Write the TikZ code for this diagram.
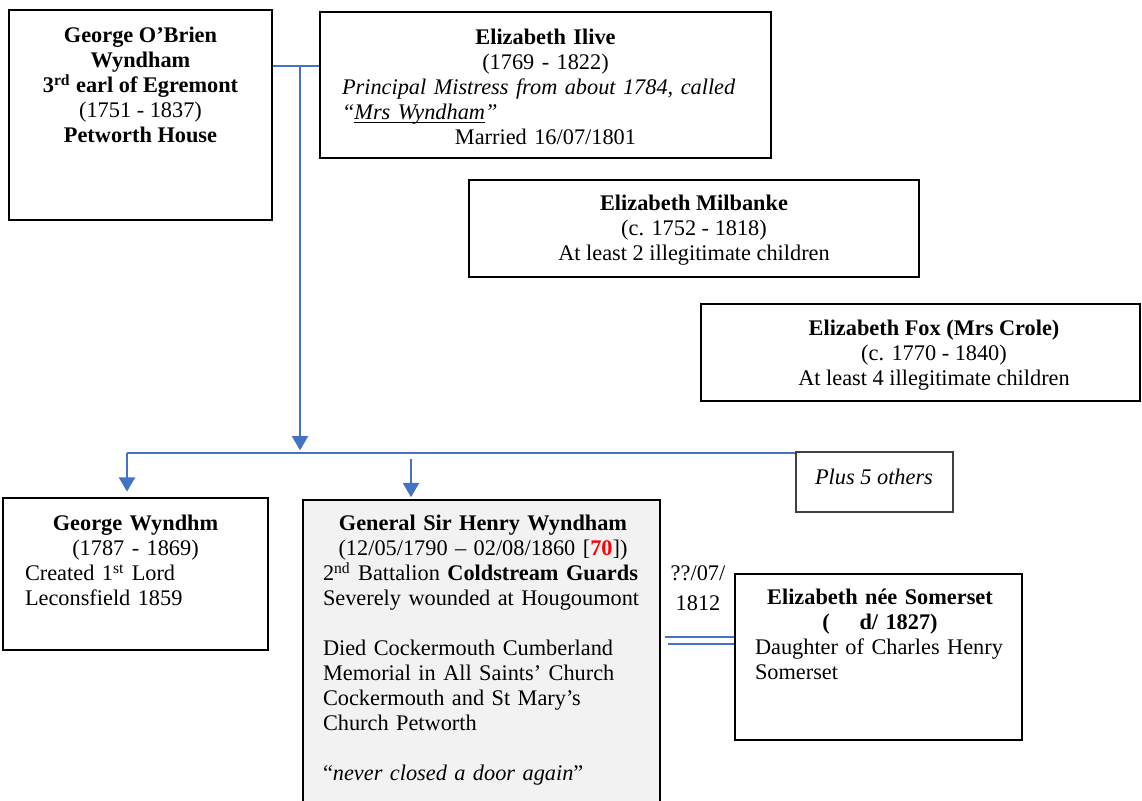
\documentclass[tikz,border=0pt]{standalone}
\usepackage{fontspec}
\setmainfont{Liberation Serif}
\usetikzlibrary{arrows.meta}
\definecolor{linkblue}{RGB}{68,114,196}
\definecolor{boxgrey}{RGB}{242,242,242}
\definecolor{agered}{RGB}{255,0,0}
\newcommand{\ctrline}[1]{\makebox[\linewidth][c]{#1}}
\newcommand{\ulword}[1]{{\setbox0\hbox{#1}\rlap{\rule[-1.7pt]{\wd0}{0.6pt}}\box0}}
\tikzset{
  person/.style={rectangle, draw, line width=1.1pt, inner sep=0pt},
  info/.style={anchor=north, inner sep=0pt, font=\fontsize{12.5}{14}\selectfont},
  link/.style={draw=linkblue, line width=1.2pt},
  down/.style={link, -{Triangle[width=9pt,length=8pt]}},
}
\begin{document}
\begin{tikzpicture}[x=0.56pt, y=-0.56pt]
\useasboundingbox (0,0) rectangle (1142,801);

% the earl and the mistresses
\node[person, minimum width=263*0.56pt, minimum height=210*0.56pt] (george) at (140.5,115) {};
\node[person, minimum width=451*0.56pt, minimum height=146*0.56pt] (ilive) at (545.5,85) {};
\node[person, minimum width=450*0.56pt, minimum height=97*0.56pt] (milbanke) at (694,228.5) {};
\node[person, minimum width=439*0.56pt, minimum height=97*0.56pt] (fox) at (920.5,352.5) {};

\node[info, align=center] (georgeTxt) at (140.5,27) {\textbf{George O’Brien}\\\textbf{Wyndham}\\\textbf{3\textsuperscript{rd} earl of Egremont}\\(1751 - 1837)\\\textbf{Petworth House}};
\node[info, text width=407*0.56pt, align=left] (iliveTxt) at (545.5,29) {\ctrline{\textbf{Elizabeth Ilive}}\\\ctrline{(1769 - 1822)}\\\textit{Principal Mistress from about 1784, called}\\\textit{“\ulword{Mrs Wyndham}”}\\\ctrline{Married 16/07/1801}};
\node[info, align=center] (milbankeTxt) at (694,195) {\textbf{Elizabeth Milbanke}\\(c. 1752 - 1818)\\At least 2 illegitimate children};
\node[info, align=center] (foxTxt) at (934,320) {\textbf{Elizabeth Fox (Mrs Crole)}\\(c. 1770 - 1840)\\At least 4 illegitimate children};

% the children
\node[person, line width=0.9pt, draw=black!75, minimum width=157*0.56pt, minimum height=60*0.56pt] (plus) at (874.5,482) {};
\node[person, minimum width=265*0.56pt, minimum height=152*0.56pt] (georgeW) at (135.5,574) {};
\node[person, fill=boxgrey, minimum width=357*0.56pt, minimum height=320*0.56pt] (henry) at (481.5,660) {};
\node[person, minimum width=287*0.56pt, minimum height=166*0.56pt] (somerset) at (878.5,657) {};

\node[info] (plusTxt) at (874,469) {\textit{Plus 5 others}};
\node[info, text width=221*0.56pt, align=left] (georgeWTxt) at (135.5,515) {\ctrline{\textbf{George Wyndhm}}\\\ctrline{(1787 - 1869)}\\Created 1\textsuperscript{st} Lord\\Leconsfield 1859};
\node[info, text width=320*0.56pt, align=left] (henryTxt) at (483,515) {\ctrline{\textbf{General Sir Henry Wyndham}}\\\ctrline{(12/05/1790 – 02/08/1860 [\textbf{\textcolor{agered}{70}}])}\\2\textsuperscript{nd} Battalion \textbf{Coldstream Guards}\\Severely wounded at Hougoumont\\[14pt]Died Cockermouth Cumberland\\Memorial in All Saints’ Church\\Cockermouth and St Mary’s\\Church Petworth\\[14pt]“\textit{never closed a door again}”};
\node[info, text width=250*0.56pt, align=left] (somersetTxt) at (880,589) {\ctrline{\textbf{Elizabeth née Somerset}}\\\ctrline{\textbf{(\hspace{1em} d/ 1827)}}\\Daughter of Charles Henry\\Somerset};
\node[info, align=center, font=\fontsize{12.5}{17}\selectfont] (wedDate) at (698,565) {??/07/\\1812};

% connectors
\coordinate (wedJ) at (300,66);
\coordinate (kidsJ) at (300,453);
\coordinate (barL) at (127,453);
\coordinate (henryA) at (411,459);
\coordinate (wedK) at (665,637);
\coordinate (wedL) at (668,644);
\draw[link] (wedJ -| george.east) -- (wedJ -| ilive.west);
\draw[down, shorten >=1.5pt] (wedJ) -- (kidsJ);
\draw[link] (barL) -- (barL -| plus.west);
\draw[down, shorten >=3pt] (barL) -- (barL |- georgeW.north);
\draw[down, shorten >=1pt] (henryA) -- (henryA |- henry.north);
\draw[link, line width=0.9pt] (wedK) -- (wedK -| somerset.west);
\draw[link, line width=0.9pt] (wedL) -- (wedL -| somerset.west);
\end{tikzpicture}
\end{document}
